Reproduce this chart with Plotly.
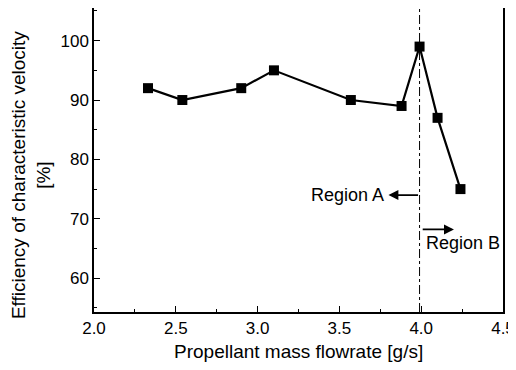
import plotly.graph_objects as go

flowrate = [2.33, 2.54, 2.90, 3.10, 3.57, 3.88, 3.99, 4.10, 4.24]
efficiency = [92, 90, 92, 95, 90, 89, 99, 87, 75]
boundary_x = 3.99

fig = go.Figure()
fig.add_trace(go.Scatter(x=flowrate, y=efficiency, mode="lines+markers",
                         line=dict(color="black", width=2.2),
                         marker=dict(symbol="square", size=10, color="black")))
fig.add_shape(type="line", x0=boundary_x, x1=boundary_x, xref="x", y0=0, y1=1, yref="paper",
              line=dict(color="black", width=1, dash="dashdot"))
# Region A arrow (left)
fig.add_annotation(x=3.80, y=74, ax=boundary_x, ay=74, xref="x", yref="y",
                   axref="x", ayref="y", showarrow=True, arrowhead=2, arrowsize=1.1,
                   arrowwidth=1.8, arrowcolor="black", text="")
fig.add_annotation(x=3.785, y=74, xref="x", yref="y", text="Region A",
                   showarrow=False, xanchor="right", font=dict(size=18, color="black"))
# Region B arrow (right)
fig.add_annotation(x=4.20, y=68.2, ax=boundary_x + 0.01, ay=68.2, xref="x", yref="y",
                   axref="x", ayref="y", showarrow=True, arrowhead=2, arrowsize=1.1,
                   arrowwidth=1.8, arrowcolor="black", text="")
fig.add_annotation(x=4.015, y=65.9, xref="x", yref="y", text="Region B",
                   showarrow=False, xanchor="left", font=dict(size=18, color="black"))
# Axis titles
fig.add_annotation(x=0.5, y=-0.131, xref="paper", yref="paper", text="Propellant mass flowrate [g/s]",
                   showarrow=False, xanchor="center", yanchor="middle", font=dict(size=19, color="black"))
fig.add_annotation(x=-0.155, y=0.449, xref="paper", yref="paper",
                   text="Efficiency of characteristic velocity<br>[%]", textangle=-90,
                   showarrow=False, xanchor="center", yanchor="middle", font=dict(size=19, color="black"))

axis_common = dict(showline=True, linecolor="black", linewidth=1.5, mirror=True, automargin=False,
                   ticks="inside", tickcolor="black", ticklen=6, showgrid=False, zeroline=False,
                   tickfont=dict(size=17, color="black"))
fig.update_xaxes(range=[2.0, 4.5], dtick=0.5, tickformat=".1f",
                 minor=dict(dtick=0.25, ticks="inside", ticklen=3, tickcolor="black"),
                 **axis_common)
fig.update_yaxes(range=[54.3, 105.5], tickvals=[60, 70, 80, 90, 100],
                 minor=dict(dtick=5, ticks="inside", ticklen=3, tickcolor="black"),
                 **axis_common)
# page body adds an 8px offset, so the figure is 8px smaller and shifted
fig.update_layout(width=508, height=362, margin=dict(l=86, r=13, t=0, b=58),
                  plot_bgcolor="white", paper_bgcolor="white", showlegend=False,
                  font=dict(family="Liberation Sans, Arial", color="black"))
fig.write_html("out.html")
